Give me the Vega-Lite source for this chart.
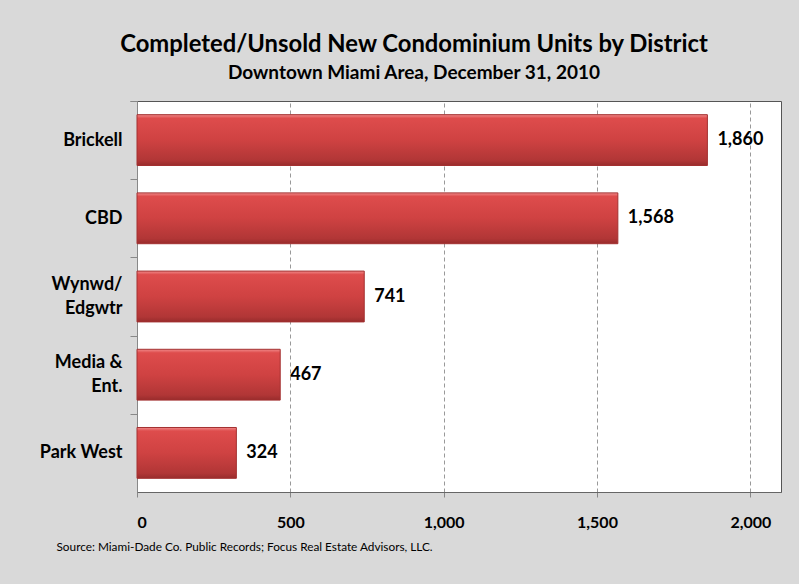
{
  "$schema": "https://vega.github.io/schema/vega-lite/v6.json",
  "autosize": {"type": "none"},
  "width": 644,
  "height": 391,
  "padding": {"left": 137, "top": 101, "right": 18, "bottom": 92},
  "background": "#d9d9d9",
  "title": {
    "text": "Completed/Unsold New Condominium Units by District",
    "subtitle": "Downtown Miami Area, December 31, 2010",
    "anchor": "middle",
    "frame": "group",
    "dx": -45,
    "offset": 9,
    "font": "Lato",
    "fontSize": 23.8,
    "fontWeight": "bold",
    "color": "#000000",
    "subtitleFont": "Lato",
    "subtitleFontSize": 19,
    "subtitleFontWeight": "bold",
    "subtitleColor": "#000000",
    "subtitlePadding": 7
  },
  "data": {
    "values": [
      {"district": "Brickell", "units": 1860},
      {"district": "CBD", "units": 1568},
      {"district": "Wynwd/Edgwtr", "units": 741},
      {"district": "Media & Ent.", "units": 467},
      {"district": "Park West", "units": 324}
    ]
  },
  "encoding": {
    "y": {
      "field": "district",
      "type": "nominal",
      "sort": null,
      "scale": {"paddingInner": 0.35, "paddingOuter": 0.175},
      "axis": {
        "title": null,
        "labelExpr": "datum.value == 'Wynwd/Edgwtr' ? ['Wynwd/', 'Edgwtr'] : datum.value == 'Media & Ent.' ? ['Media &', 'Ent.'] : datum.value",
        "labelOffset": {"condition": {"test": "datum.value == 'Wynwd/Edgwtr' || datum.value == 'Media & Ent.'", "value": 1.7}, "value": 13.7},
        "bandPosition": 0,
        "tickExtra": true,
        "tickOffset": -13.7,
        "labelFont": "Lato",
        "labelFontSize": 18,
        "labelFontWeight": "bold",
        "labelColor": "#000000",
        "labelLineHeight": 24,
        "labelPadding": 8,
        "tickSize": 7,
        "tickColor": "#888888",
        "domainColor": "#888888",
        "grid": false
      }
    },
    "x": {
      "field": "units",
      "type": "quantitative",
      "scale": {"domain": [0, 2100], "nice": false},
      "axis": {
        "values": [0, 500, 1000, 1500, 2000],
        "format": ",d",
        "title": "Source: Miami-Dade Co. Public Records; Focus Real Estate Advisors, LLC.",
        "titleFont": "Lato",
        "titleFontSize": 11.8,
        "titleFontWeight": "normal",
        "titleColor": "#000000",
        "titleAnchor": "start",
        "titleAlign": "left",
        "titleBaseline": "alphabetic",
        "titleX": -81,
        "titleY": 58,
        "labelFont": "Lato",
        "labelFontSize": 16,
        "labelFontWeight": "bold",
        "labelColor": "#000000",
        "labelPadding": 17,
        "tickSize": 5,
        "tickColor": "#888888",
        "domainColor": "#666666",
        "grid": true,
        "gridColor": "#999999",
        "gridDash": [4, 3],
        "gridWidth": 1
      }
    }
  },
  "layer": [
    {
      "mark": {
        "type": "bar",
        "color": {
          "gradient": "linear",
          "x1": 0, "y1": 0, "x2": 0, "y2": 1,
          "stops": [
            {"offset": 0, "color": "#f08a8a"},
            {"offset": 0.07, "color": "#de4c4c"},
            {"offset": 0.5, "color": "#cf4242"},
            {"offset": 0.9, "color": "#b13636"},
            {"offset": 1, "color": "#982c2c"}
          ]
        },
        "stroke": "#a33030",
        "strokeWidth": 1
      }
    },
    {
      "mark": {
        "type": "text",
        "align": "left",
        "baseline": "middle",
        "dx": 10,
        "font": "Lato",
        "fontSize": 18,
        "fontWeight": "bold",
        "color": "#000000"
      },
      "encoding": {
        "text": {"field": "units", "type": "quantitative", "format": ","}
      }
    }
  ],
  "config": {
    "view": {"fill": "#ffffff", "stroke": "#555555", "strokeWidth": 1}
  }
}
